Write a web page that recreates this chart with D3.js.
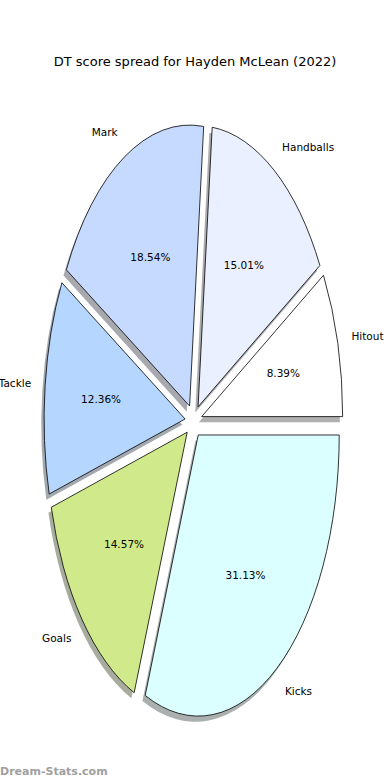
<!DOCTYPE html>
<html>
<head>
<meta charset="utf-8">
<script src="https://cdn.jsdelivr.net/npm/d3@7"></script>
<style>
  body { margin: 0; background: #fff; }
  svg text { font-family: "DejaVu Sans", sans-serif; }
</style>
</head>
<body>
<div id="chart"></div>
<script>
// slices go counterclockwise from 3 o'clock, like the original
var labels = ["Hitout", "Handballs", "Mark", "Tackle", "Goals", "Kicks"];
var values = [8.39, 15.01, 18.54, 12.36, 14.57, 31.13];
var colors = ["#ffffff", "#eaf0ff", "#c6d9ff", "#b4d6ff", "#d0ea8b", "#dbffff"];
var explode = 0.06;

var W = 390, H = 780;
var cx = 193.5, cy = 421, rx = 141, ry = 281;

var svg = d3.select("#chart")
    .append("svg")
    .attr("width", W)
    .attr("height", H);

// data units -> pixels (the pie is stretched like the original)
var x = d3.scaleLinear().domain([-1, 1]).range([cx - rx, cx + rx]);
var y = d3.scaleLinear().domain([-1, 1]).range([cy + ry, cy - ry]);

var pie = d3.pie().sort(null)
    .startAngle(Math.PI / 2)
    .endAngle(Math.PI / 2 - 2 * Math.PI);
var arcs = pie(values);

var arc = d3.arc().innerRadius(0).outerRadius(1);

function mid(d) { return (d.startAngle + d.endAngle) / 2; }
function px(d, r) { return Math.sin(mid(d)) * r; }
function py(d, r) { return Math.cos(mid(d)) * r; }

function wedgeTransform(d, ox, oy) {
    var dx = px(d, explode) + ox, dy = py(d, explode) + oy;
    return "translate(" + x(dx) + "," + y(dy) + ") scale(" + rx + "," + ry + ")";
}

// shadows first, under all wedges
svg.append("g").selectAll("path")
    .data(arcs)
    .enter()
    .append("path")
    .attr("d", arc)
    .attr("transform", function(d) { return wedgeTransform(d, -0.02, -0.02); })
    .attr("fill", function(d, i) {
        var c = d3.rgb(colors[i]);
        return d3.rgb(c.r * 0.3, c.g * 0.3, c.b * 0.3);
    })
    .attr("fill-opacity", 0.45);

svg.append("g").selectAll("path")
    .data(arcs)
    .enter()
    .append("path")
    .attr("d", arc)
    .attr("transform", function(d) { return wedgeTransform(d, 0, 0); })
    .attr("fill", function(d, i) { return colors[i]; })
    .attr("stroke", "#000")
    .attr("stroke-width", 0.8)
    .attr("vector-effect", "non-scaling-stroke");

// category labels
svg.append("g").selectAll("text")
    .data(arcs)
    .enter()
    .append("text")
    .attr("x", function(d) { return x(px(d, explode) + px(d, 1.1)); })
    .attr("y", function(d) { return y(py(d, explode) + py(d, 1.1)); })
    .attr("text-anchor", function(d) { return px(d, 1) > 0 ? "start" : "end"; })
    .attr("dominant-baseline", "central")
    .style("font-size", "10.5px")
    .attr("fill", "#000")
    .text(function(d, i) { return labels[i]; });

// percentages
svg.append("g").selectAll("text")
    .data(arcs)
    .enter()
    .append("text")
    .attr("x", function(d) { return x(px(d, explode) + px(d, 0.6)); })
    .attr("y", function(d) { return y(py(d, explode) + py(d, 0.6)); })
    .attr("text-anchor", "middle")
    .attr("dominant-baseline", "central")
    .style("font-size", "10.5px")
    .attr("fill", "#000")
    .text(function(d) { return d.value.toFixed(2) + "%"; });

svg.append("text")
    .attr("x", 195)
    .attr("y", 61)
    .attr("text-anchor", "middle")
    .attr("dominant-baseline", "central")
    .style("font-size", "13px")
    .text("DT score spread for Hayden McLean (2022)");

svg.append("text")
    .attr("x", 0)
    .attr("y", 771)
    .attr("dominant-baseline", "central")
    .style("font-size", "11px")
    .style("font-weight", "bold")
    .attr("fill", "#a0a0a0")
    .text("Dream-Stats.com");
</script>
</body>
</html>
